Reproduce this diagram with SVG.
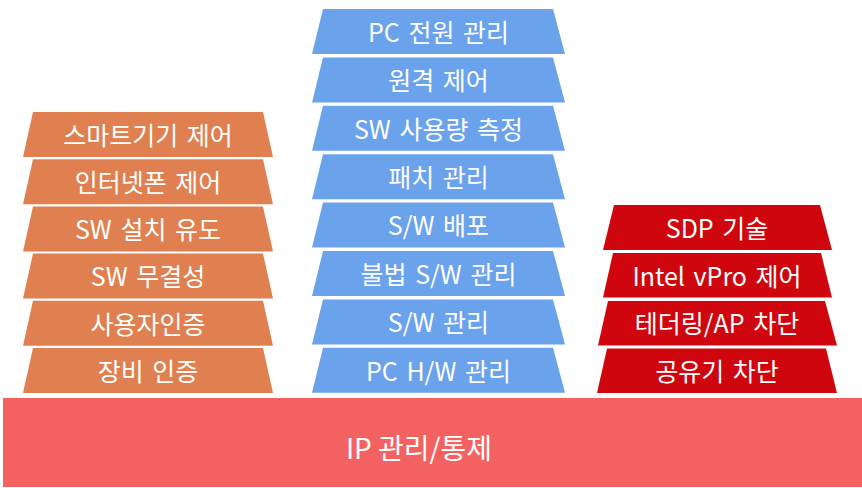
<svg xmlns="http://www.w3.org/2000/svg" width="862" height="488" viewBox="0 0 862 488">
<style>
.t{font-family:"Malgun Gothic","Noto Sans CJK KR","Noto Sans",sans-serif;font-size:25px;fill:#ffffff;text-anchor:middle;word-spacing:3px}
.b{font-size:28px;word-spacing:0}
.o{fill:#E07F4F}
.u{fill:#6AA2EC}
.r{fill:#D0060E}
.base{fill:#F46161}
</style>
<rect width="862" height="488" fill="#ffffff"/>
<g id="base"><rect class="base" x="3" y="398" width="859" height="89"/><text class="t b" x="419" y="459">IP 관리/통제</text></g>
<g id="left">
<g id="l1"><polygon class="o" points="33,112 263,112 273,157 23,157"/><text class="t" x="148" y="144.5">스마트기기 제어</text></g>
<g id="l2"><polygon class="o" points="33,159.2 263,159.2 273,204.2 23,204.2"/><text class="t" x="148" y="191.5">인터넷폰 제어</text></g>
<g id="l3"><polygon class="o" points="33,206.4 263,206.4 273,251.4 23,251.4"/><text class="t" x="148" y="239">SW 설치 유도</text></g>
<g id="l4"><polygon class="o" points="33,253.6 263,253.6 273,298.6 23,298.6"/><text class="t" x="148" y="286">SW 무결성</text></g>
<g id="l5"><polygon class="o" points="33,300.8 263,300.8 273,345.8 23,345.8"/><text class="t" x="148" y="333.5">사용자인증</text></g>
<g id="l6"><polygon class="o" points="33,348 263,348 273,393 23,393"/><text class="t" x="148" y="380.5">장비 인증</text></g>
</g>
<g id="mid">
<g id="m1"><polygon class="u" points="323,9 553,9 565,54 312,54"/><text class="t" x="438.5" y="41.5">PC 전원 관리</text></g>
<g id="m2"><polygon class="u" points="323,57.4 553,57.4 565,102.4 312,102.4"/><text class="t" x="438.5" y="90">원격 제어</text></g>
<g id="m3"><polygon class="u" points="323,105.8 553,105.8 565,150.8 312,150.8"/><text class="t" x="438.5" y="138.5">SW 사용량 측정</text></g>
<g id="m4"><polygon class="u" points="323,154.2 553,154.2 565,199.2 312,199.2"/><text class="t" x="438.5" y="186.5">패치 관리</text></g>
<g id="m5"><polygon class="u" points="323,202.6 553,202.6 565,247.6 312,247.6"/><text class="t" x="438.5" y="235">S/W 배포</text></g>
<g id="m6"><polygon class="u" points="323,251 553,251 565,296 312,296"/><text class="t" x="438.5" y="283.5">불법 S/W 관리</text></g>
<g id="m7"><polygon class="u" points="323,299.4 553,299.4 565,344.4 312,344.4"/><text class="t" x="438.5" y="332">S/W 관리</text></g>
<g id="m8"><polygon class="u" points="323,347.8 553,347.8 565,392.8 312,392.8"/><text class="t" x="438.5" y="380.5">PC H/W 관리</text></g>
</g>
<g id="right">
<g id="r1"><polygon class="r" points="614,205 820,205 832,250 603,250"/><text class="t" x="717" y="237.5">SDP 기술</text></g>
<g id="r2"><polygon class="r" points="613,253 821,253 832,297.5 603,297.5"/><text class="t" x="717" y="285.5">Intel vPro 제어</text></g>
<g id="r3"><polygon class="r" points="608,301 825,301 837,345.5 598,345.5"/><text class="t" x="717" y="333">테더링/AP 차단</text></g>
<g id="r4"><polygon class="r" points="607,348.5 826,348.5 837,393 597,393"/><text class="t" x="717" y="380.5">공유기 차단</text></g>
</g>
<g id="connectors"/>
</svg>
